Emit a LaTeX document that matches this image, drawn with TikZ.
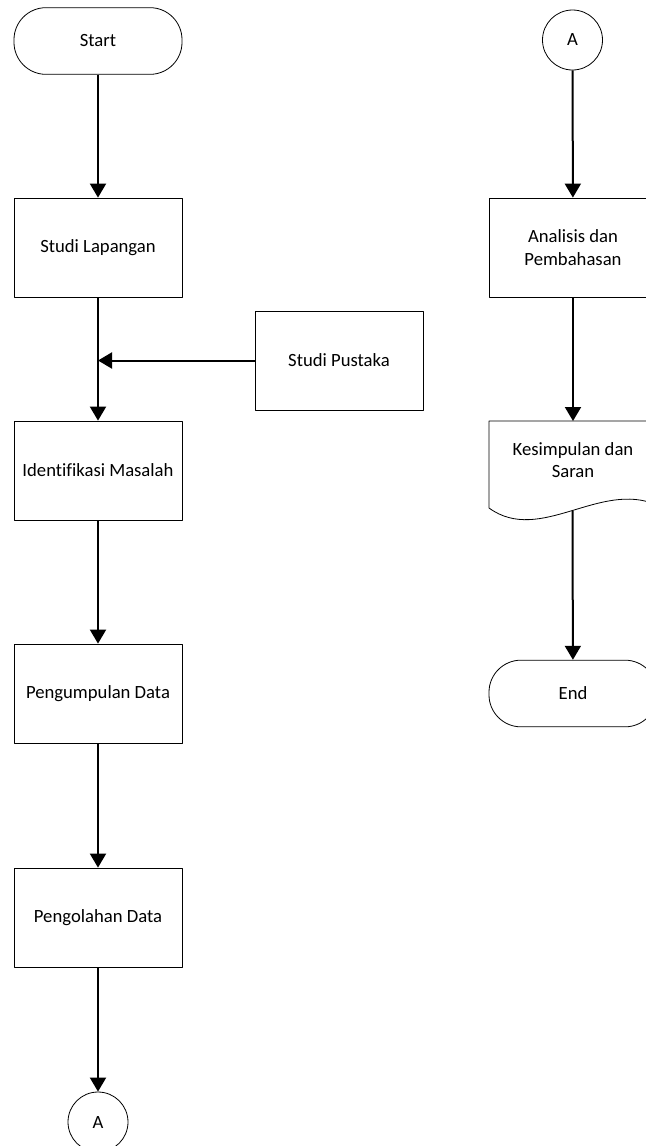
\documentclass[tikz,border=0pt]{standalone}
\usepackage{fontspec}
\setmainfont{Carlito}[Ligatures=NoCommon]
\usetikzlibrary{arrows.meta}

\begin{document}
\begin{tikzpicture}[x=0.75pt,y=-0.75pt,line join=round,font=\fontsize{14}{17}\selectfont,
  proses/.style={draw,line width=0.6pt,minimum width=126pt,minimum height=74.25pt,inner sep=2pt,align=center},
  terminal/.style={draw,line width=0.6pt,rounded corners=24pt,minimum width=126pt,minimum height=50pt},
  konektor/.style={draw,line width=0.6pt,circle,minimum size=45pt,inner sep=0pt},
  panah/.style={line width=1.5pt,-{Triangle[width=12pt,length=10.5pt]}}]
  \useasboundingbox (0,0) rectangle (646,1146);
  \clip (0,0) rectangle (646,1146);

  % kolom kiri
  \node[terminal] (start) at (98,41) {Start};
  \node[proses] (lapangan) at (98,247.5) {Studi Lapangan};
  \node[proses] (pustaka) at (339,360.5) {Studi Pustaka};
  \node[proses] (identifikasi) at (98,470.5) {Identifikasi Masalah};
  \node[proses] (pengumpulan) at (98,693.5) {Pengumpulan Data};
  \node[proses] (pengolahan) at (98,917.5) {Pengolahan Data};
  \node[konektor] (akiri) at (98,1122) {A};

  \draw[panah] (start) -- (lapangan);
  \draw[panah] (lapangan) -- (identifikasi);
  \draw[panah] (pustaka.west) -- (pustaka.west -| lapangan.south);
  \draw[panah] (identifikasi) -- (pengumpulan);
  \draw[panah] (pengumpulan) -- (pengolahan);
  \draw[panah] (pengolahan) -- (akiri);

  % kolom kanan
  \node[konektor] (akanan) at (572.5,40) {A};
  \node[proses] (analisis) at (573,247.5) {Analisis dan\\Pembahasan};
  \node[align=center] (kesimpulan) at (573,460) {Kesimpulan dan\\Saran};
  \draw[line width=0.6pt] (489,421) -- (657,421) -- (657,505)
    .. controls (600,480) and (540,545) .. (489,508) -- cycle;
  \coordinate (kesbawah) at (572.5,511);
  \node[terminal] (end) at (573,693.5) {End};

  \draw[panah] (akanan) -- (analisis);
  \draw[panah] (analisis.south) -- (analisis.south |- 421,421);
  \draw[panah] (kesbawah) -- (end);
\end{tikzpicture}
\end{document}
